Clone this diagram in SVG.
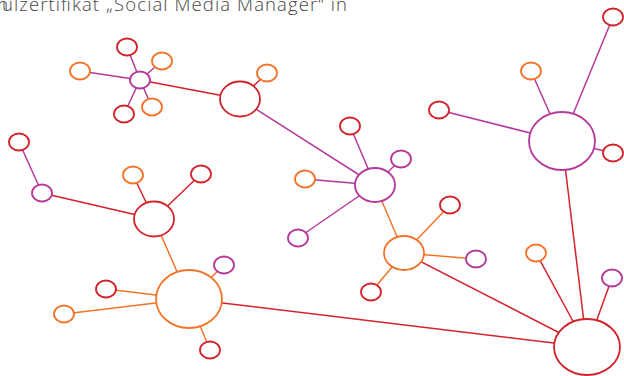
<svg xmlns="http://www.w3.org/2000/svg" width="624" height="376" viewBox="0 0 624 376">
<style>
.n{fill:#fff;stroke-width:1.8}
.r{stroke:#d2232a}
.o{stroke:#f37428}
.p{stroke:#b5399b}
#links line{stroke-width:1.5}
.t{font-family:"Open Sans","Liberation Sans",sans-serif;font-size:18.5px;font-weight:300;fill:#444}
</style>
<rect width="624" height="376" fill="#fff"/>
<text class="t" y="11"><tspan x="-64">Hochsch</tspan><tspan x="2" textLength="345" lengthAdjust="spacing">ulzertifikat „Social Media Manager“ in</tspan></text>
<g id="links">
<line class="p" x1="140" y1="80" x2="127" y2="47"/>
<line class="p" x1="140" y1="80" x2="162" y2="61"/>
<line class="p" x1="140" y1="80" x2="80" y2="71"/>
<line class="p" x1="140" y1="80" x2="124" y2="114"/>
<line class="p" x1="140" y1="80" x2="152" y2="107"/>
<line class="r" x1="140" y1="80" x2="240" y2="99"/>
<line class="r" x1="240" y1="99" x2="267" y2="73"/>
<line class="p" x1="240" y1="99" x2="375" y2="185"/>
<line class="p" x1="375" y1="185" x2="350" y2="126"/>
<line class="p" x1="375" y1="185" x2="401" y2="159"/>
<line class="p" x1="375" y1="185" x2="305" y2="179"/>
<line class="p" x1="375" y1="185" x2="298" y2="238"/>
<line class="o" x1="375" y1="185" x2="404" y2="253"/>
<line class="o" x1="404" y1="253" x2="450" y2="205"/>
<line class="o" x1="404" y1="253" x2="476" y2="259"/>
<line class="o" x1="404" y1="253" x2="371" y2="292"/>
<line class="r" x1="404" y1="253" x2="587" y2="347"/>
<line class="p" x1="562" y1="141" x2="613" y2="17"/>
<line class="p" x1="562" y1="141" x2="531" y2="71"/>
<line class="p" x1="562" y1="141" x2="439" y2="110"/>
<line class="p" x1="562" y1="141" x2="613" y2="153"/>
<line class="r" x1="562" y1="141" x2="587" y2="347"/>
<line class="r" x1="587" y1="347" x2="536" y2="253"/>
<line class="r" x1="587" y1="347" x2="612" y2="278"/>
<line class="r" x1="189" y1="299" x2="587" y2="347"/>
<line class="p" x1="19" y1="142" x2="42" y2="193"/>
<line class="r" x1="42" y1="193" x2="154" y2="219"/>
<line class="r" x1="154" y1="219" x2="133" y2="175"/>
<line class="r" x1="154" y1="219" x2="201" y2="174"/>
<line class="o" x1="154" y1="219" x2="189" y2="299"/>
<line class="o" x1="189" y1="299" x2="224" y2="265"/>
<line class="o" x1="189" y1="299" x2="106" y2="289"/>
<line class="o" x1="189" y1="299" x2="64" y2="314"/>
<line class="o" x1="189" y1="299" x2="210" y2="350"/>
</g>
<g id="hub-purple-1"><ellipse class="n p" cx="140" cy="80" rx="10" ry="8.5"/></g>
<g id="n-r-127-47"><ellipse class="n r" cx="127" cy="47" rx="10" ry="8.5"/></g>
<g id="n-o-162-61"><ellipse class="n o" cx="162" cy="61" rx="10" ry="8.5"/></g>
<g id="n-o-80-71"><ellipse class="n o" cx="80" cy="71" rx="10" ry="8.5"/></g>
<g id="n-r-124-114"><ellipse class="n r" cx="124" cy="114" rx="10" ry="8.5"/></g>
<g id="n-o-152-107"><ellipse class="n o" cx="152" cy="107" rx="10" ry="8.5"/></g>
<g id="hub-red-1"><ellipse class="n r" cx="240" cy="99" rx="20" ry="17.5"/></g>
<g id="n-o-267-73"><ellipse class="n o" cx="267" cy="73" rx="10" ry="8.5"/></g>
<g id="hub-purple-2"><ellipse class="n p" cx="375" cy="185" rx="20" ry="17"/></g>
<g id="n-r-350-126"><ellipse class="n r" cx="350" cy="126" rx="10" ry="8.5"/></g>
<g id="n-p-401-159"><ellipse class="n p" cx="401" cy="159" rx="10" ry="8.5"/></g>
<g id="n-o-305-179"><ellipse class="n o" cx="305" cy="179" rx="10" ry="8.5"/></g>
<g id="n-p-298-238"><ellipse class="n p" cx="298" cy="238" rx="10" ry="8.5"/></g>
<g id="hub-orange-1"><ellipse class="n o" cx="404" cy="253" rx="20" ry="17"/></g>
<g id="n-r-450-205"><ellipse class="n r" cx="450" cy="205" rx="10" ry="8.5"/></g>
<g id="n-p-476-259"><ellipse class="n p" cx="476" cy="259" rx="10" ry="8.5"/></g>
<g id="n-r-371-292"><ellipse class="n r" cx="371" cy="292" rx="10" ry="8.5"/></g>
<g id="hub-purple-3"><ellipse class="n p" cx="562" cy="141" rx="33" ry="29"/></g>
<g id="n-r-613-17"><ellipse class="n r" cx="613" cy="17" rx="10" ry="8.5"/></g>
<g id="n-o-531-71"><ellipse class="n o" cx="531" cy="71" rx="10" ry="8.5"/></g>
<g id="n-r-439-110"><ellipse class="n r" cx="439" cy="110" rx="10" ry="8.5"/></g>
<g id="n-r-613-153"><ellipse class="n r" cx="613" cy="153" rx="10" ry="8.5"/></g>
<g id="hub-red-root"><ellipse class="n r" cx="587" cy="347" rx="33" ry="28"/></g>
<g id="n-o-536-253"><ellipse class="n o" cx="536" cy="253" rx="10" ry="8.5"/></g>
<g id="n-p-612-278"><ellipse class="n p" cx="612" cy="278" rx="10" ry="8.5"/></g>
<g id="n-r-19-142"><ellipse class="n r" cx="19" cy="142" rx="10" ry="8.5"/></g>
<g id="n-p-42-193"><ellipse class="n p" cx="42" cy="193" rx="10" ry="8.5"/></g>
<g id="hub-red-2"><ellipse class="n r" cx="154" cy="219" rx="20" ry="17.5"/></g>
<g id="n-o-133-175"><ellipse class="n o" cx="133" cy="175" rx="10" ry="8.5"/></g>
<g id="n-r-201-174"><ellipse class="n r" cx="201" cy="174" rx="10" ry="8.5"/></g>
<g id="hub-orange-2"><ellipse class="n o" cx="189" cy="299" rx="33" ry="29"/></g>
<g id="n-p-224-265"><ellipse class="n p" cx="224" cy="265" rx="10" ry="8.5"/></g>
<g id="n-r-106-289"><ellipse class="n r" cx="106" cy="289" rx="10" ry="8.5"/></g>
<g id="n-o-64-314"><ellipse class="n o" cx="64" cy="314" rx="10" ry="8.5"/></g>
<g id="n-r-210-350"><ellipse class="n r" cx="210" cy="350" rx="10" ry="8.5"/></g>
</svg>
